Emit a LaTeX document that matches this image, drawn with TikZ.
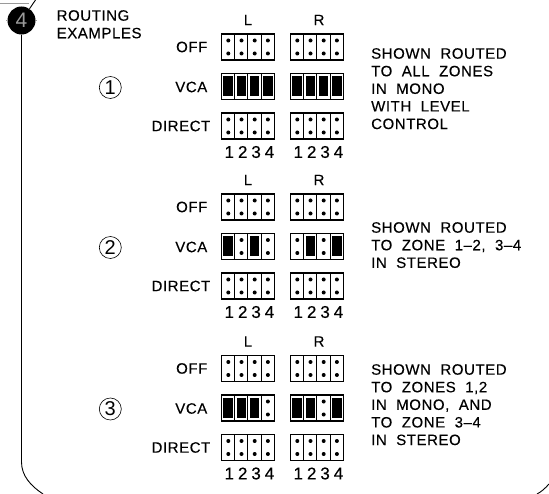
\documentclass[tikz,border=0pt]{standalone}
\usepackage{fontspec}
\setmainfont{Liberation Sans}[LetterSpace=3.8,WordSpace=2,FakeBold=0.3]
\newfontfamily\thinfont{Liberation Sans}
\definecolor{jmpgrey}{HTML}{9A9A9A}
\tikzset{
  x=1pt,y=-1pt,
  frameline/.style={line width=0.9pt,draw=black},
  pinbox/.style={draw=black,line width=1.1pt},
  pindot/.style={fill=black,draw=none},
  shunt/.style={fill=black,draw=none},
  lbl/.style={inner sep=0pt,font=\fontsize{15}{17.6}\selectfont},
  rowlbl/.style={lbl,anchor=east},
  desc/.style={lbl,anchor=north west,align=left},
  ctrlbl/.style={lbl,anchor=center},
  numlbl/.style={lbl,anchor=center,font=\fontsize{17}{17}\selectfont},
  example/.style={draw=black,line width=0.6pt,circle,minimum size=22pt,inner sep=0pt,
                  font=\thinfont\fontsize{20}{20}\selectfont},
}
% one row of four jumpers, 1 = fitted, 0 = open
\newcommand{\pinrow}[3]{
  \begin{scope}[shift={(#1,#2)}]
    \foreach \f [count=\i from 0] in {#3} {
      \ifnum\f=1
        \fill[shunt] (\i*13.2+1.9,3) rectangle (\i*13.2+11.4,23);
      \else
        \fill[pindot] (\i*13.2+6.8,6.5) circle (2);
        \fill[pindot] (\i*13.2+6.8,19.5) circle (2);
      \fi
    }
    \draw[pinbox] (0,0) rectangle (52.8,26);
    \foreach \i in {1,2,3} \draw[pinbox] (\i*13.2,0) -- (\i*13.2,26);
  \end{scope}
}
% a whole example: tag, top y, number in circle, VCA left, VCA right
\newcommand{\routeblock}[5]{
  \node[ctrlbl] (#1L) at (248,#2-14) {L};
  \node[ctrlbl] (#1R) at (319,#2-14) {R};
  \node[rowlbl] (#1off) at (207.5,#2+13) {OFF};
  \node[rowlbl] (#1vca) at (207.5,#2+53) {VCA};
  \node[rowlbl] (#1dir) at (210.5,#2+92) {DIRECT};
  \node[example] (#1ex) at (110.3,#2+53.5) {#3};
  \pinrow{221.5}{#2}{0,0,0,0}
  \pinrow{290.5}{#2}{0,0,0,0}
  \pinrow{221.5}{#2+39.5}{#4}
  \pinrow{290.5}{#2+39.5}{#5}
  \pinrow{221.5}{#2+79}{0,0,0,0}
  \pinrow{290.5}{#2+79}{0,0,0,0}
  \foreach \n [count=\i from 0] in {1,2,3,4} {
    \node[numlbl] (#1a\n) at (\i*13.4+229.3,#2+118) {\n};
    \node[numlbl] (#1b\n) at (\i*13.4+298.3,#2+118) {\n};
  }
}

\begin{document}
\begin{tikzpicture}
  \useasboundingbox (0,0) rectangle (549,494);

  \node[circle,fill=black,minimum size=28pt,inner sep=0pt,text=jmpgrey,
        font=\thinfont\fontsize{21}{21}\selectfont] (mark) at (21.5,20.5) {4};
  \coordinate (topl) at (0,3.5);
  \coordinate (topr) at (29,3.5);
  \coordinate (slant) at (35.5,0);
  \coordinate (leftend) at (21.5,462);
  \coordinate (botl) at (43,494);
  \coordinate (botr) at (537,494);
  \coordinate (rightend) at (549,484);

  \draw[frameline,draw=jmpgrey,line width=1.2pt] (topl) -- (topr);
  \draw[frameline] (mark) -- (slant);
  \draw[frameline] (mark.south) -- (leftend) .. controls (21.5,476) and (31,486) .. (botl);
  \draw[frameline] (botr) .. controls (541,492) and (545,488.5) .. (rightend);
  % small centre ticks poking out of the bullet
  \draw[draw=jmpgrey,line width=0.6pt] (mark.west) -- ++(-1.5,0);
  \draw[draw=jmpgrey,line width=0.6pt] (mark.east) -- ++(1.5,0);

  \node[desc] (title) at (56.5,10) {ROUTING\\EXAMPLES};

  \routeblock{a}{34}{1}{1,1,1,1}{1,1,1,1}
  \routeblock{b}{194}{2}{1,0,1,0}{0,1,0,1}
  \routeblock{c}{355.5}{3}{1,1,1,0}{1,1,0,1}

  \node[desc] (adesc) at (371,48) {SHOWN ROUTED\\TO ALL ZONES\\IN MONO\\WITH LEVEL\\CONTROL};
  \node[desc] (bdesc) at (371,222) {SHOWN ROUTED\\TO ZONE 1--2, 3--4\\IN STEREO};
  \node[desc] (cdesc) at (371,364) {SHOWN ROUTED\\TO ZONES 1,2\\IN MONO, AND\\TO ZONE 3--4\\IN STEREO};
\end{tikzpicture}
\end{document}
